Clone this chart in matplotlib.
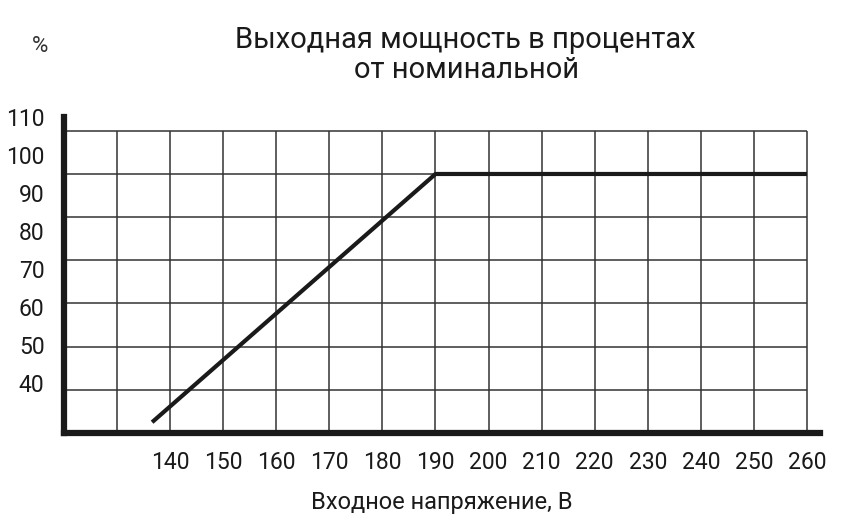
"""Output power vs input voltage chart (stabilizer characteristic)."""

import numpy as np
import matplotlib
matplotlib.use("Agg")
import matplotlib.pyplot as plt

# data
voltage = [136.6, 190, 260]
power_pct = [32.5, 90, 90]

x_grid = [130, 140, 150, 160, 170, 180, 190, 200, 210, 220, 230, 240, 250, 260]
y_grid = [40, 50, 60, 70, 80, 90, 100]

x_ticks = [140, 150, 160, 170, 180, 190, 200, 210, 220, 230, 240, 250, 260]
x_labels = [str(v) for v in x_ticks]

# y labels in the original are not aligned with the grid rows
y_label_pos = [41.5, 50.3, 59.1, 67.9, 76.8, 85.6, 94.4, 103.2]
y_labels = ["40", "50", "60", "70", "80", "90", "100", "110"]

title_lines = ["Выходная мощность в процентах", "от номинальной"]
x_title = "Входное напряжение, В"

W, H = 842, 528
fig = plt.figure(figsize=(W / 100, H / 100), dpi=100)
ax = fig.add_axes([64 / W, 1 - 433 / H, (820 - 64) / W, (433 - 117) / H])
ax.set_xlim(120, 262.45)
ax.set_ylim(30, 102.76)

ax.vlines(x_grid, 30, 100, color="#333333", linewidth=1.1, zorder=1)
ax.hlines(y_grid, 120, 260, color="#333333", linewidth=1.1, zorder=1)

ax.plot(voltage, power_pct, color="#1a1a1a", linewidth=3.0,
        solid_capstyle="butt", zorder=3)

for side in ("top", "right"):
    ax.spines[side].set_visible(False)
for side in ("left", "bottom"):
    ax.spines[side].set_linewidth(4.5)
    ax.spines[side].set_color("#1a1a1a")
    ax.spines[side].set_zorder(4)

tick_font = dict(family=["Roboto", "DejaVu Sans"], size=16.5, color="#1a1a1a")
ax.set_xticks(x_ticks)
ax.set_xticklabels(x_labels, **tick_font)
ax.set_yticks(y_label_pos)
ax.set_yticklabels(y_labels, **tick_font)
ax.tick_params(axis="x", length=0, pad=13)
ax.tick_params(axis="y", length=0, pad=14)

title_font = dict(family=["Roboto", "DejaVu Sans"], size=21, color="#1a1a1a")
fig.text(465 / W, 1 - 40 / H, title_lines[0], ha="center", va="center", **title_font)
fig.text(467 / W, 1 - 70 / H, title_lines[1], ha="center", va="center", **title_font)
fig.text(40 / W, 1 - 47 / H, "%", ha="center", va="center",
         fontsize=16, color="#333333", family=["Roboto", "DejaVu Sans"])
fig.text(442 / W, 1 - 502 / H, x_title, ha="center", va="center",
         fontsize=17, color="#1a1a1a", family=["Roboto", "DejaVu Sans"])

fig.savefig("out.png", dpi=100)
